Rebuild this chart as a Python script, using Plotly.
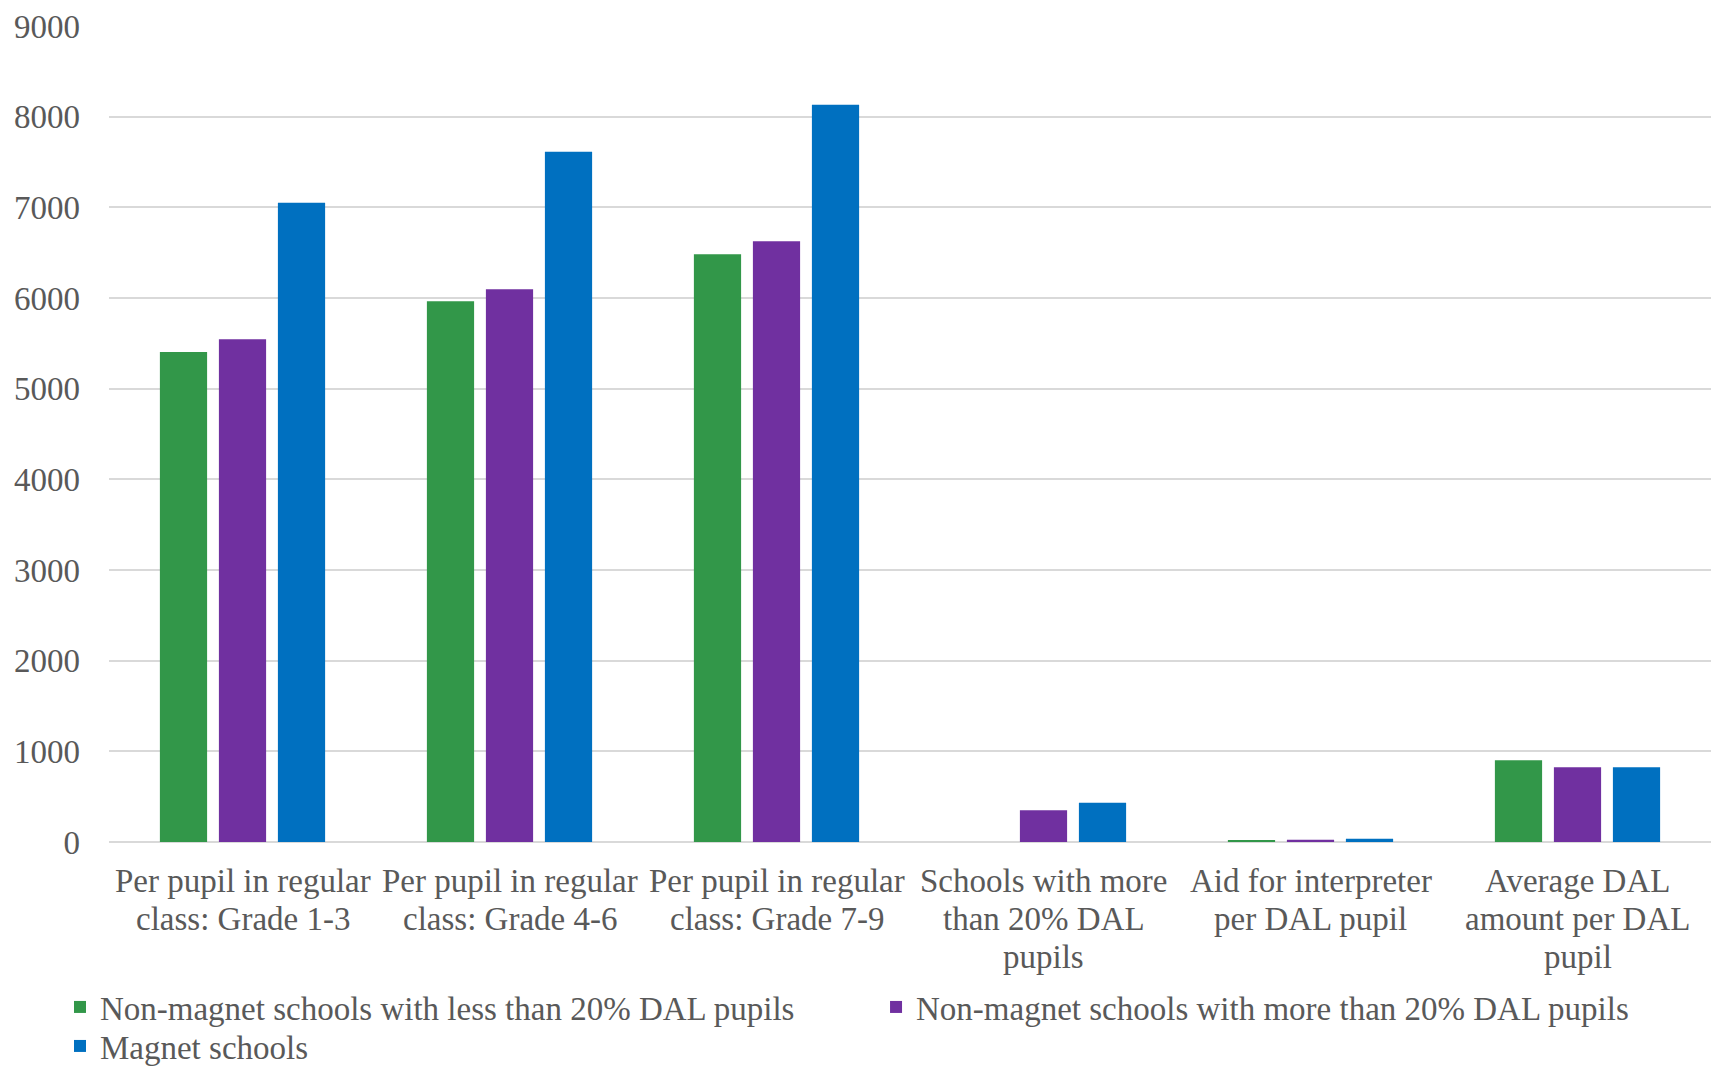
import plotly.graph_objects as go

categories = [
    "Per pupil in regular class: Grade 1-3",
    "Per pupil in regular class: Grade 4-6",
    "Per pupil in regular class: Grade 7-9",
    "Schools with more than 20% DAL pupils",
    "Aid for interpreter per DAL pupil",
    "Average DAL amount per DAL pupil",
]
category_label_lines = [
    ["Per pupil in regular", "class: Grade 1-3"],
    ["Per pupil in regular", "class: Grade 4-6"],
    ["Per pupil in regular", "class: Grade 7-9"],
    ["Schools with more", "than 20% DAL", "pupils"],
    ["Aid for interpreter", "per DAL pupil"],
    ["Average DAL", "amount per DAL", "pupil"],
]
series_names = [
    "Non-magnet schools with less than 20% DAL pupils",
    "Non-magnet schools with more than 20% DAL pupils",
    "Magnet schools",
]
non_magnet_less = [5404, 5964, 6482, 0, 14, 901]
non_magnet_more = [5544, 6097, 6627, 350, 25, 824]
magnet = [7051, 7613, 8131, 434, 36, 824]
colors = ["#329749", "#7030A0", "#0070C0"]

font_family = "Liberation Serif, Times New Roman, serif"
text_color = "#595959"

fig = go.Figure()
legend_ids = ["legend", "legend2", "legend3"]
for name, vals, col, lg in zip(series_names, [non_magnet_less, non_magnet_more, magnet], colors, legend_ids):
    fig.add_trace(go.Bar(
        x=categories, y=vals, name=name, legend=lg,
        marker=dict(color=col, line=dict(width=0)),
    ))

# category labels, one line per annotation for tighter line spacing
line_step = 38
first_offset = 39
for cat, lines in zip(categories, category_label_lines):
    for i, line in enumerate(lines):
        fig.add_annotation(
            x=cat, xref="x", y=0, yref="paper",
            text=line, showarrow=False,
            xanchor="center", yanchor="middle",
            yshift=-(first_offset + i * line_step),
            font=dict(family=font_family, size=33, color=text_color),
        )

legend_common = dict(
    orientation="v", xanchor="left", yanchor="middle",
    font=dict(family=font_family, size=33, color=text_color),
    bgcolor="rgba(0,0,0,0)",
)
fig.update_layout(
    width=1711, height=1068,
    margin=dict(l=109, r=0, t=26, b=226, autoexpand=False),
    paper_bgcolor="white", plot_bgcolor="white",
    barmode="group", bargap=0.337, bargroupgap=0.2,
    font=dict(family=font_family, size=33, color=text_color),
    showlegend=True,
    legend=dict(x=-0.0306, y=-0.2022, **legend_common),
    legend2=dict(x=0.4788, y=-0.2022, **legend_common),
    legend3=dict(x=-0.0306, y=-0.2500, **legend_common),
)
fig.update_yaxes(
    range=[0, 9000], dtick=1000, showgrid=True, gridcolor="#D9D9D9", gridwidth=2,
    zeroline=True, zerolinecolor="#D9D9D9", zerolinewidth=2,
    showline=False, ticks="", ticklabelstandoff=28,
    tickfont=dict(family=font_family, size=33, color=text_color),
)
fig.update_xaxes(
    showgrid=False, showline=False, ticks="", showticklabels=False,
)

fig.write_html("out.html")
